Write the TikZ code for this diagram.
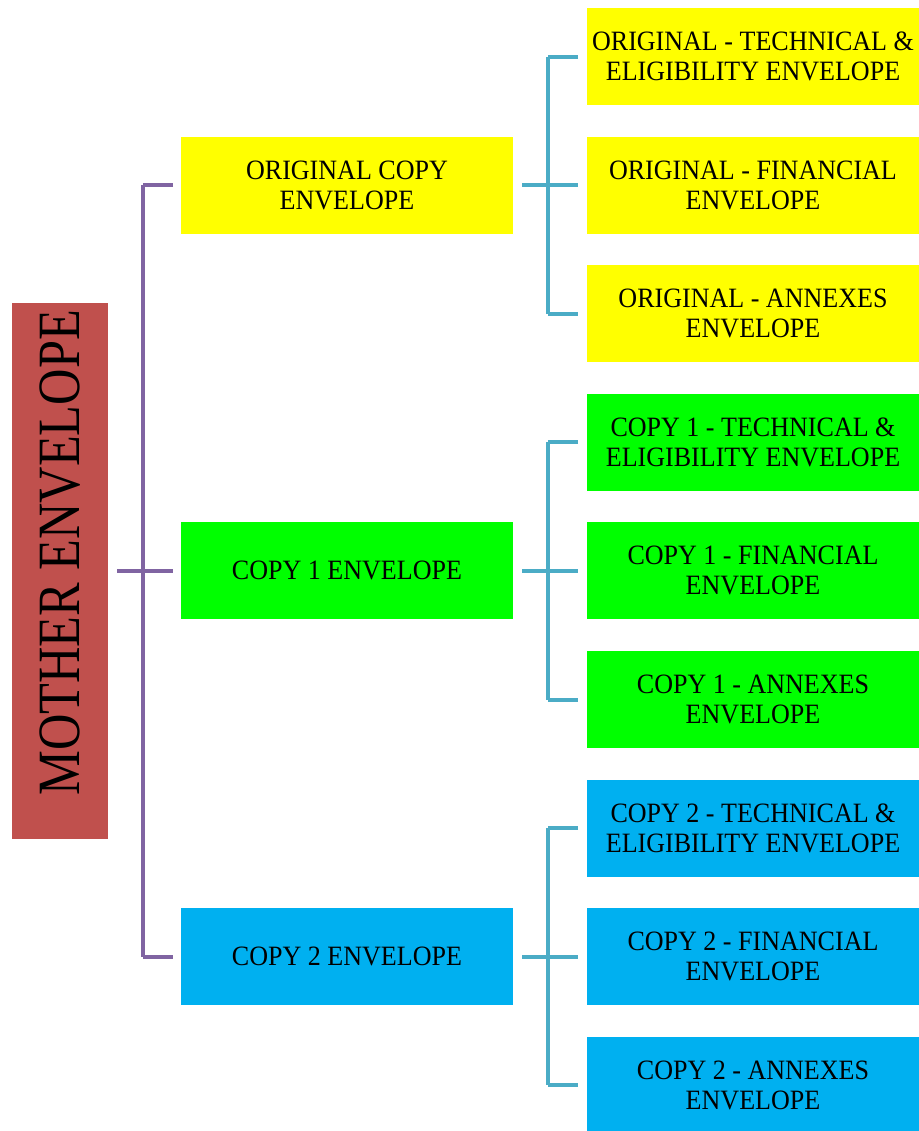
\documentclass[tikz,border=0pt]{standalone}
\usepackage{fontspec}
\setmainfont{Liberation Serif}[FakeStretch=0.93]
\newfontfamily\motherfont{Liberation Serif}[FakeStretch=0.84]
\definecolor{boxyellow}{HTML}{FFFF00}
\definecolor{boxgreen}{HTML}{00FF00}
\definecolor{boxblue}{HTML}{00B0F0}
\definecolor{boxred}{HTML}{C0504D}
\definecolor{linepurple}{HTML}{8064A2}
\definecolor{lineteal}{HTML}{4BACC6}

\begin{document}
\begin{tikzpicture}[auto, node distance = 64.3pt, % distance between boxes
                line width = 2pt % line style
            ]

            \useasboundingbox (0,0) rectangle (459.5pt,-565.5pt);

            \tikzstyle{every node}=[inner sep = 0pt, align = center,
            font = \fontsize{14pt}{15pt}\selectfont]
            \tikzstyle{env}=[minimum width = 166pt, minimum height = 48.5pt]
            \tikzstyle{bus1}=[draw = linepurple]
            \tikzstyle{bus2}=[draw = lineteal]

            % third level
            \node (o1) [env, fill = boxyellow] at (376.5pt,-28.25pt)
            {ORIGINAL - TECHNICAL \&\\ELIGIBILITY ENVELOPE};
            \node (o2) [env, fill = boxyellow, below of=o1]
            {ORIGINAL - FINANCIAL\\ENVELOPE};
            \node (o3) [env, fill = boxyellow, below of=o2]
            {ORIGINAL - ANNEXES\\ENVELOPE};
            \node (a1) [env, fill = boxgreen, below of=o3]
            {COPY 1 - TECHNICAL \&\\ELIGIBILITY ENVELOPE};
            \node (a2) [env, fill = boxgreen, below of=a1]
            {COPY 1 - FINANCIAL\\ENVELOPE};
            \node (a3) [env, fill = boxgreen, below of=a2]
            {COPY 1 - ANNEXES\\ENVELOPE};
            \node (b1) [env, fill = boxblue, below of=a3]
            {COPY 2 - TECHNICAL \&\\ELIGIBILITY ENVELOPE};
            \node (b2) [env, fill = boxblue, below of=b1]
            {COPY 2 - FINANCIAL\\ENVELOPE};
            \node (b3) [env, fill = boxblue, below of=b2]
            {COPY 2 - ANNEXES\\ENVELOPE};

            % second level
            \node (orig) [env, fill = boxyellow, left of=o2, node distance = 203pt]
            {ORIGINAL COPY\\ENVELOPE};
            \node (copy1) [env, fill = boxgreen, left of=a2, node distance = 203pt]
            {COPY 1 ENVELOPE};
            \node (copy2) [env, fill = boxblue, left of=b2, node distance = 203pt]
            {COPY 2 ENVELOPE};

            % first level
            \node (mother) [fill = boxred, minimum width = 268pt, minimum height = 48pt,
            rotate = 90, font = \motherfont\fontsize{30pt}{32pt}\selectfont]
            at ([xshift=-143.5pt]copy1.center) {\hspace*{18pt}MOTHER ENVELOPE};

            \path[bus1] ([xshift=3.5pt]mother.south) edge ([xshift=-3pt]copy1.west);
            \path[bus1] ([xshift=-3pt]orig.west) edge ([xshift=-18pt]orig.west);
            \path[bus1] ([xshift=-18pt]orig.west) edge ([xshift=-18pt]copy2.west);
            \path[bus1] ([xshift=-18pt]copy2.west) edge ([xshift=-3pt]copy2.west);

            \foreach \p/\c in {orig/o, copy1/a, copy2/b} {
                \path[bus2] ([xshift=3.5pt]\p.east) edge ([xshift=-3.5pt]\c2.west);
                \path[bus2] ([xshift=-3.5pt]\c1.west) edge ([xshift=-18.5pt]\c1.west);
                \path[bus2] ([xshift=-18.5pt]\c1.west) edge ([xshift=-18.5pt]\c3.west);
                \path[bus2] ([xshift=-18.5pt]\c3.west) edge ([xshift=-3.5pt]\c3.west);
            }

        \end{tikzpicture}
\end{document}
